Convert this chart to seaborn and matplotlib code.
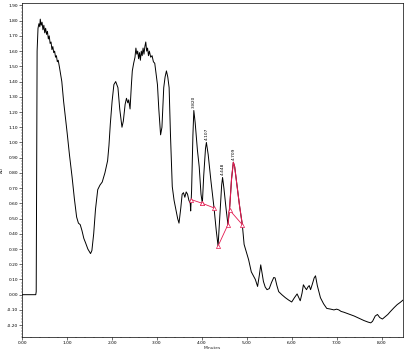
import matplotlib
matplotlib.use("Agg")
import matplotlib.pyplot as plt
import seaborn as sns
import pandas as pd
import numpy as np
from matplotlib.ticker import MultipleLocator, FormatStrFormatter

sns.set_style("white")
plt.rcParams['font.family'] = ['DejaVu Sans']

# chromatogram trace (minutes, AU)
times = [0.00, 0.30, 0.31, 0.33, 0.35, 0.37, 0.39, 0.40, 0.42, 0.44, 0.46, 0.48, 0.50, 0.52,
         0.54, 0.56, 0.58, 0.60, 0.62, 0.64, 0.66, 0.68, 0.70, 0.72, 0.74, 0.76, 0.78, 0.80,
         0.83, 0.88, 0.92, 1.00, 1.05, 1.11, 1.16, 1.21, 1.25, 1.29, 1.33, 1.37, 1.41, 1.46,
         1.52, 1.55, 1.59, 1.63, 1.68, 1.73, 1.78, 1.84, 1.90, 1.93, 1.96, 2.00, 2.04, 2.08,
         2.13, 2.17, 2.22, 2.25, 2.29, 2.32, 2.35, 2.37, 2.40, 2.43, 2.45, 2.48, 2.51, 2.53,
         2.55, 2.57, 2.59, 2.61, 2.63, 2.65, 2.67, 2.69, 2.71, 2.73, 2.75, 2.77, 2.79, 2.81,
         2.83, 2.86, 2.89, 2.92, 2.95, 2.98, 3.01, 3.04, 3.08, 3.11, 3.15, 3.18, 3.21, 3.24,
         3.27, 3.30, 3.34, 3.38, 3.42, 3.46, 3.49, 3.53, 3.56, 3.59, 3.62, 3.65, 3.68, 3.71,
         3.74, 3.75, 3.77, 3.80, 3.82, 3.85, 3.90, 3.94, 3.98, 4.01, 4.04, 4.08, 4.10, 4.14,
         4.20, 4.27, 4.32, 4.36, 4.40, 4.44, 4.46, 4.49, 4.54, 4.58, 4.62, 4.66, 4.70, 4.73,
         4.78, 4.84, 4.90, 4.94, 5.04, 5.10, 5.19, 5.24, 5.28, 5.31, 5.34, 5.37, 5.41, 5.45,
         5.50, 5.55, 5.60, 5.63, 5.67, 5.71, 5.78, 5.86, 5.93, 6.00, 6.06, 6.12, 6.16, 6.19,
         6.23, 6.26, 6.30, 6.33, 6.36, 6.39, 6.42, 6.46, 6.50, 6.53, 6.57, 6.64, 6.71, 6.78,
         6.87, 6.94, 7.00, 7.05, 7.10, 7.16, 7.25, 7.39, 7.50, 7.61, 7.70, 7.76, 7.80, 7.86,
         7.91, 7.96, 8.02, 8.08, 8.14, 8.20, 8.28, 8.35, 8.42, 8.48]
absorb = [0.00, 0.00, 0.02, 1.60, 1.75, 1.78, 1.76, 1.81, 1.77, 1.79, 1.74, 1.77, 1.72, 1.75,
          1.71, 1.73, 1.68, 1.70, 1.65, 1.66, 1.61, 1.63, 1.59, 1.60, 1.56, 1.57, 1.53, 1.54,
          1.49, 1.40, 1.27, 1.06, 0.92, 0.77, 0.63, 0.51, 0.47, 0.46, 0.42, 0.37, 0.34, 0.30,
          0.27, 0.29, 0.40, 0.56, 0.69, 0.72, 0.74, 0.80, 0.88, 0.98, 1.12, 1.27, 1.38, 1.40,
          1.36, 1.22, 1.10, 1.14, 1.25, 1.29, 1.26, 1.28, 1.22, 1.38, 1.47, 1.52, 1.56, 1.62,
          1.58, 1.60, 1.55, 1.59, 1.54, 1.60, 1.57, 1.62, 1.58, 1.63, 1.66, 1.60, 1.62, 1.57,
          1.60, 1.56, 1.57, 1.53, 1.52, 1.45, 1.38, 1.22, 1.05, 1.10, 1.36, 1.43, 1.47, 1.43,
          1.36, 1.05, 0.71, 0.62, 0.56, 0.50, 0.47, 0.57, 0.66, 0.67, 0.64, 0.675, 0.66, 0.62,
          0.60, 0.55, 0.68, 1.05, 1.21, 1.13, 0.95, 0.84, 0.66, 0.60, 0.78, 0.96, 1.00, 0.92,
          0.75, 0.57, 0.42, 0.32, 0.52, 0.72, 0.77, 0.70, 0.56, 0.46, 0.58, 0.76, 0.87, 0.84,
          0.72, 0.58, 0.46, 0.33, 0.23, 0.15, 0.10, 0.054, 0.13, 0.196, 0.14, 0.087, 0.05, 0.033,
          0.04, 0.08, 0.113, 0.11, 0.06, 0.02, 0.00, -0.02, -0.035, -0.048, -0.02, 0.005, -0.02, -0.04,
          0.01, 0.065, 0.045, 0.033, 0.05, 0.06, 0.033, 0.07, 0.11, 0.124, 0.06, -0.02, -0.06, -0.09,
          -0.095, -0.10, -0.095, -0.10, -0.11, -0.115, -0.125, -0.14, -0.155, -0.17, -0.18, -0.185, -0.175, -0.14,
          -0.13, -0.15, -0.16, -0.145, -0.13, -0.11, -0.085, -0.065, -0.05, -0.035]

# integration marks
peak_times = [3.82, 4.10, 4.46, 4.70]
peak_heights = [1.21, 1.00, 0.77, 0.87]
peak_labels = ["3.820", "4.107", "4.448", "4.709"]
base_x = [[3.76, 4.01], [4.01, 4.27], [4.36, 4.58], [4.62, 4.90]]
base_y = [[0.625, 0.60], [0.60, 0.57], [0.32, 0.46], [0.555, 0.46]]
red_start, red_end = 4.58, 4.90

df = pd.DataFrame({"Minutes": times, "AU": absorb})

fig = plt.figure(figsize=(4.09, 3.51), dpi=100)
ax = fig.add_axes([0.0545, 0.039, 0.931, 0.952])

red = "#e3194f"
sns.lineplot(data=df, x="Minutes", y="AU", ax=ax, color="black", lw=0.7, sort=False)
seg = df[(df.Minutes >= red_start) & (df.Minutes <= red_end)]
sns.lineplot(data=seg, x="Minutes", y="AU", ax=ax, color=red, lw=0.8, sort=False)

for bx, by in zip(base_x, base_y):
    ax.plot(bx, by, color=red, lw=0.6)
    ax.plot(bx, by, ls="none", marker="^", ms=3, mfc="white", mec=red, mew=0.5)

for t, h, lab in zip(peak_times, peak_heights, peak_labels):
    ax.text(t, h + 0.015, lab, rotation=90, ha="center", va="bottom", fontsize=3.2, color="black")

ax.set_xlim(0, 8.48)
ax.set_ylim(-0.28, 1.915)
ax.xaxis.set_major_locator(MultipleLocator(1.0))
ax.xaxis.set_minor_locator(MultipleLocator(0.2))
ax.yaxis.set_major_locator(MultipleLocator(0.1))
ax.yaxis.set_minor_locator(MultipleLocator(0.02))
ax.xaxis.set_major_formatter(FormatStrFormatter("%.2f"))
ax.yaxis.set_major_formatter(FormatStrFormatter("%.2f"))
ax.tick_params(axis="both", which="major", direction="out", length=2, width=0.4,
               labelsize=3.2, pad=1, colors="black")
ax.tick_params(axis="both", which="minor", direction="out", length=1, width=0.3)
ax.tick_params(axis="both", which="both", bottom=True, left=True)
for s in ax.spines.values():
    s.set_color("black")
    s.set_linewidth(0.5)
ax.set_xlabel("Minutes", fontsize=3.2, labelpad=0.5)
ax.set_ylabel("AU", fontsize=3.2, labelpad=2)

fig.savefig("out.png", dpi=100)
